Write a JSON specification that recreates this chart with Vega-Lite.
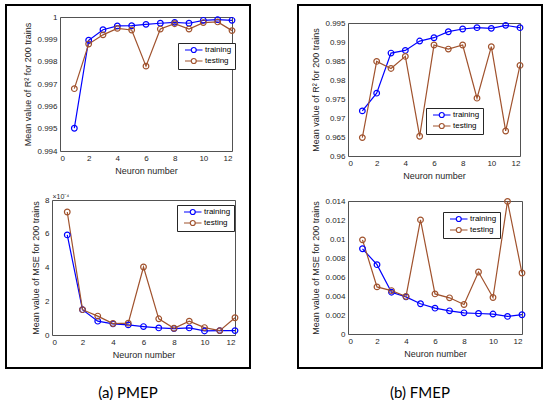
{
  "$schema": "https://vega.github.io/schema/vega-lite/v6.json",
  "padding": {"left": 5, "top": 4, "right": 0, "bottom": 0},
  "background": "white",
  "datasets": {
    "pmep_r2": [
      {"n": 1, "series": "training", "value": 0.99502},
      {"n": 2, "series": "training", "value": 0.99896},
      {"n": 3, "series": "training", "value": 0.99943},
      {"n": 4, "series": "training", "value": 0.99960},
      {"n": 5, "series": "training", "value": 0.99961},
      {"n": 6, "series": "training", "value": 0.99967},
      {"n": 7, "series": "training", "value": 0.99972},
      {"n": 8, "series": "training", "value": 0.99976},
      {"n": 9, "series": "training", "value": 0.99972},
      {"n": 10, "series": "training", "value": 0.99985},
      {"n": 11, "series": "training", "value": 0.99988},
      {"n": 12, "series": "training", "value": 0.99985},
      {"n": 1, "series": "testing", "value": 0.99679},
      {"n": 2, "series": "testing", "value": 0.99879},
      {"n": 3, "series": "testing", "value": 0.99920},
      {"n": 4, "series": "testing", "value": 0.99949},
      {"n": 5, "series": "testing", "value": 0.99942},
      {"n": 6, "series": "testing", "value": 0.99780},
      {"n": 7, "series": "testing", "value": 0.99946},
      {"n": 8, "series": "testing", "value": 0.99970},
      {"n": 9, "series": "testing", "value": 0.99946},
      {"n": 10, "series": "testing", "value": 0.99975},
      {"n": 11, "series": "testing", "value": 0.99978},
      {"n": 12, "series": "testing", "value": 0.99939}
    ],
    "pmep_mse": [
      {"n": 1, "series": "training", "value": 0.000593},
      {"n": 2, "series": "training", "value": 0.000150},
      {"n": 3, "series": "training", "value": 0.000082},
      {"n": 4, "series": "training", "value": 0.000066},
      {"n": 5, "series": "training", "value": 0.000060},
      {"n": 6, "series": "training", "value": 0.000050},
      {"n": 7, "series": "training", "value": 0.000042},
      {"n": 8, "series": "training", "value": 0.000038},
      {"n": 9, "series": "training", "value": 0.000042},
      {"n": 10, "series": "training", "value": 0.000024},
      {"n": 11, "series": "training", "value": 0.000026},
      {"n": 12, "series": "training", "value": 0.000026},
      {"n": 1, "series": "testing", "value": 0.000729},
      {"n": 2, "series": "testing", "value": 0.000150},
      {"n": 3, "series": "testing", "value": 0.000112},
      {"n": 4, "series": "testing", "value": 0.000068},
      {"n": 5, "series": "testing", "value": 0.000070},
      {"n": 6, "series": "testing", "value": 0.000403},
      {"n": 7, "series": "testing", "value": 0.000096},
      {"n": 8, "series": "testing", "value": 0.000040},
      {"n": 9, "series": "testing", "value": 0.000082},
      {"n": 10, "series": "testing", "value": 0.000044},
      {"n": 11, "series": "testing", "value": 0.000026},
      {"n": 12, "series": "testing", "value": 0.000102}
    ],
    "fmep_r2": [
      {"n": 1, "series": "training", "value": 0.97187},
      {"n": 2, "series": "training", "value": 0.97653},
      {"n": 3, "series": "training", "value": 0.98709},
      {"n": 4, "series": "training", "value": 0.98779},
      {"n": 5, "series": "training", "value": 0.99025},
      {"n": 6, "series": "training", "value": 0.99113},
      {"n": 7, "series": "training", "value": 0.99271},
      {"n": 8, "series": "training", "value": 0.99342},
      {"n": 9, "series": "training", "value": 0.99377},
      {"n": 10, "series": "training", "value": 0.99359},
      {"n": 11, "series": "training", "value": 0.99438},
      {"n": 12, "series": "training", "value": 0.99377},
      {"n": 1, "series": "testing", "value": 0.96484},
      {"n": 2, "series": "testing", "value": 0.98489},
      {"n": 3, "series": "testing", "value": 0.98304},
      {"n": 4, "series": "testing", "value": 0.98621},
      {"n": 5, "series": "testing", "value": 0.96519},
      {"n": 6, "series": "testing", "value": 0.98920},
      {"n": 7, "series": "testing", "value": 0.98814},
      {"n": 8, "series": "testing", "value": 0.98920},
      {"n": 9, "series": "testing", "value": 0.97522},
      {"n": 10, "series": "testing", "value": 0.98876},
      {"n": 11, "series": "testing", "value": 0.96659},
      {"n": 12, "series": "testing", "value": 0.98383}
    ],
    "fmep_mse": [
      {"n": 1, "series": "training", "value": 0.00897},
      {"n": 2, "series": "training", "value": 0.00730},
      {"n": 3, "series": "training", "value": 0.00440},
      {"n": 4, "series": "training", "value": 0.00391},
      {"n": 5, "series": "training", "value": 0.00318},
      {"n": 6, "series": "training", "value": 0.00272},
      {"n": 7, "series": "training", "value": 0.00244},
      {"n": 8, "series": "training", "value": 0.00223},
      {"n": 9, "series": "training", "value": 0.00216},
      {"n": 10, "series": "training", "value": 0.00210},
      {"n": 11, "series": "training", "value": 0.00185},
      {"n": 12, "series": "training", "value": 0.00203},
      {"n": 1, "series": "testing", "value": 0.00991},
      {"n": 2, "series": "testing", "value": 0.00496},
      {"n": 3, "series": "testing", "value": 0.00457},
      {"n": 4, "series": "testing", "value": 0.00395},
      {"n": 5, "series": "testing", "value": 0.01201},
      {"n": 6, "series": "testing", "value": 0.00422},
      {"n": 7, "series": "testing", "value": 0.00381},
      {"n": 8, "series": "testing", "value": 0.00311},
      {"n": 9, "series": "testing", "value": 0.00653},
      {"n": 10, "series": "testing", "value": 0.00384},
      {"n": 11, "series": "testing", "value": 0.01396},
      {"n": 12, "series": "testing", "value": 0.00642}
    ]
  },
  "spacing": 46,
  "hconcat": [
    {
      "width": 244,
      "height": 363,
      "view": {"stroke": "black", "strokeWidth": 2},
      "title": {"text": "(a) PMEP", "orient": "bottom", "anchor": "middle", "offset": 18, "fontSize": 15, "font": "Lato", "fontWeight": "normal", "color": "black"},
      "layer": [
        {
          "data": {"name": "pmep_r2"},
          "encoding": {
            "color": {"field": "series", "type": "nominal",
              "scale": {"domain": ["training", "testing"], "range": ["#0000FF", "#A0522D"]},
              "legend": {"orient": "none", "legendX": 172, "legendY": 38}}
          },
          "layer": [
            {"mark": {"type": "line", "strokeWidth": 1.2},
             "encoding": {
              "x": {"field": "n", "type": "quantitative",
                "scale": {"domain": [0, 12], "range": [54, 226], "nice": false},
                "axis": {"orient": "bottom", "offset": -217, "title": "Neuron number", "values": [0, 2, 4, 6, 8, 10, 12]}},
              "y": {"field": "value", "type": "quantitative",
                "scale": {"domain": [0.994, 1], "range": [146, 12], "nice": false, "zero": false},
                "axis": {"orient": "left", "offset": -54, "title": "Mean value of R² for 200 trains", "values": [0.994, 0.995, 0.996, 0.997, 0.998, 0.999, 1], "format": "~g"}}
             }},
            {"mark": {"type": "point", "filled": false, "size": 32, "strokeWidth": 1.2, "opacity": 1},
             "encoding": {
              "x": {"field": "n", "type": "quantitative", "axis": {"orient": "top", "offset": -12, "title": null, "labels": false}},
              "y": {"field": "value", "type": "quantitative", "axis": {"orient": "right", "offset": -18, "title": null, "labels": false}}
             }}
          ],
          "resolve": {"axis": {"x": "independent", "y": "independent"}}
        },
        {
          "data": {"name": "pmep_mse"},
          "encoding": {
            "color": {"field": "series", "type": "nominal",
              "scale": {"domain": ["training", "testing"], "range": ["#0000FF", "#A0522D"]},
              "legend": {"orient": "none", "legendX": 171, "legendY": 200}}
          },
          "layer": [
            {"mark": {"type": "line", "strokeWidth": 1.2},
             "encoding": {
              "x": {"field": "n", "type": "quantitative",
                "scale": {"domain": [0, 12], "range": [46, 229], "nice": false},
                "axis": {"orient": "bottom", "offset": -33, "title": "Neuron number", "values": [0, 2, 4, 6, 8, 10, 12]}},
              "y": {"field": "value", "type": "quantitative",
                "scale": {"domain": [0, 0.0008], "range": [330, 195], "nice": false, "zero": false},
                "axis": {"orient": "left", "offset": -46, "title": "Mean value of MSE for 200 trains", "values": [0, 0.0002, 0.0004, 0.0006, 0.0008], "labelExpr": "format(datum.value * 10000, 'd')"}}
             }},
            {"mark": {"type": "point", "filled": false, "size": 32, "strokeWidth": 1.2, "opacity": 1},
             "encoding": {
              "x": {"field": "n", "type": "quantitative", "axis": {"orient": "top", "offset": -195, "title": "×10⁻⁴", "titleAnchor": "start", "titleFontSize": 7, "titlePadding": 1, "labels": false}},
              "y": {"field": "value", "type": "quantitative", "axis": {"orient": "right", "offset": -15, "title": null, "labels": false}}
             }}
          ],
          "resolve": {"axis": {"x": "independent", "y": "independent"}}
        }
      ],
      "resolve": {"scale": {"x": "independent", "y": "independent", "color": "independent"}, "axis": {"x": "independent", "y": "independent"}, "legend": {"color": "independent"}}
    },
    {
      "width": 244,
      "height": 363,
      "view": {"stroke": "black", "strokeWidth": 2},
      "title": {"text": "(b) FMEP", "orient": "bottom", "anchor": "middle", "offset": 18, "fontSize": 15, "font": "Lato", "fontWeight": "normal", "color": "black"},
      "layer": [
        {
          "data": {"name": "fmep_r2"},
          "encoding": {
            "color": {"field": "series", "type": "nominal",
              "scale": {"domain": ["training", "testing"], "range": ["#0000FF", "#A0522D"]},
              "legend": {"orient": "none", "legendX": 128, "legendY": 103}}
          },
          "layer": [
            {"mark": {"type": "line", "strokeWidth": 1.2},
             "encoding": {
              "x": {"field": "n", "type": "quantitative",
                "scale": {"domain": [0, 12], "range": [50, 222], "nice": false},
                "axis": {"orient": "bottom", "offset": -212, "title": "Neuron number", "values": [0, 2, 4, 6, 8, 10, 12]}},
              "y": {"field": "value", "type": "quantitative",
                "scale": {"domain": [0.96, 0.995], "range": [151, 18], "nice": false, "zero": false},
                "axis": {"orient": "left", "offset": -50, "title": "Mean value of R² for 200 trains", "values": [0.96, 0.965, 0.97, 0.975, 0.98, 0.985, 0.99, 0.995], "format": "~g"}}
             }},
            {"mark": {"type": "point", "filled": false, "size": 32, "strokeWidth": 1.2, "opacity": 1},
             "encoding": {
              "x": {"field": "n", "type": "quantitative", "axis": {"orient": "top", "offset": -18, "title": null, "labels": false}},
              "y": {"field": "value", "type": "quantitative", "axis": {"orient": "right", "offset": -22, "title": null, "labels": false}}
             }}
          ],
          "resolve": {"axis": {"x": "independent", "y": "independent"}}
        },
        {
          "data": {"name": "fmep_mse"},
          "encoding": {
            "color": {"field": "series", "type": "nominal",
              "scale": {"domain": ["training", "testing"], "range": ["#0000FF", "#A0522D"]},
              "legend": {"orient": "none", "legendX": 145, "legendY": 207}}
          },
          "layer": [
            {"mark": {"type": "line", "strokeWidth": 1.2},
             "encoding": {
              "x": {"field": "n", "type": "quantitative",
                "scale": {"domain": [0, 12], "range": [50, 224], "nice": false},
                "axis": {"orient": "bottom", "offset": -34, "title": "Neuron number", "values": [0, 2, 4, 6, 8, 10, 12]}},
              "y": {"field": "value", "type": "quantitative",
                "scale": {"domain": [0, 0.014], "range": [329, 196], "nice": false, "zero": false},
                "axis": {"orient": "left", "offset": -50, "title": "Mean value of MSE for 200 trains", "values": [0, 0.002, 0.004, 0.006, 0.008, 0.01, 0.012, 0.014], "format": "~g"}}
             }},
            {"mark": {"type": "point", "filled": false, "size": 32, "strokeWidth": 1.2, "opacity": 1},
             "encoding": {
              "x": {"field": "n", "type": "quantitative", "axis": {"orient": "top", "offset": -196, "title": null, "labels": false}},
              "y": {"field": "value", "type": "quantitative", "axis": {"orient": "right", "offset": -20, "title": null, "labels": false}}
             }}
          ],
          "resolve": {"axis": {"x": "independent", "y": "independent"}}
        }
      ],
      "resolve": {"scale": {"x": "independent", "y": "independent", "color": "independent"}, "axis": {"x": "independent", "y": "independent"}, "legend": {"color": "independent"}}
    }
  ],
  "resolve": {"scale": {"color": "independent"}, "legend": {"color": "independent"}},
  "config": {
    "font": "Liberation Sans",
    "axis": {"labelFontSize": 8, "titleFontSize": 9, "titleFontWeight": "normal", "labelColor": "#262626", "titleColor": "#262626",
      "domain": true, "domainColor": "#262626", "domainWidth": 0.8, "grid": false, "ticks": false, "labelPadding": 3, "titlePadding": 4},
    "legend": {"title": null, "symbolType": "M0,0H2.5M4.5,0H7M2.5,0A1,1 0 1,0 4.5,0A1,1 0 1,0 2.5,0", "symbolSize": 25, "symbolStrokeWidth": 1.2,
      "symbolFillColor": "transparent", "labelFontSize": 8, "labelColor": "black", "labelOffset": 16, "strokeColor": "#262626", "fillColor": "white",
      "padding": 3, "rowPadding": 1, "cornerRadius": 0}
  }
}
